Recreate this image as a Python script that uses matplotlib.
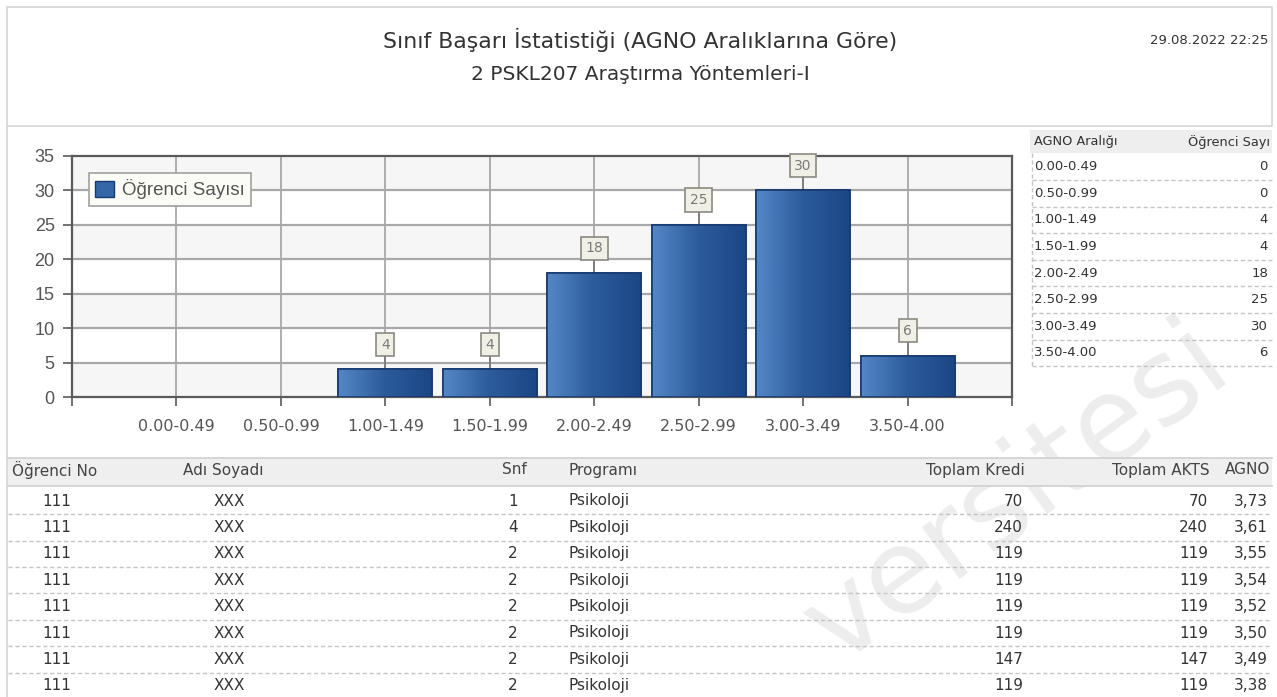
import numpy as np
import matplotlib.pyplot as plt
from matplotlib.colors import LinearSegmentedColormap
from matplotlib.patches import Rectangle

# --- chart data (AGNO ranges and student counts) ---
agno_ranges = ['0.00-0.49', '0.50-0.99', '1.00-1.49', '1.50-1.99',
               '2.00-2.49', '2.50-2.99', '3.00-3.49', '3.50-4.00']
student_counts = [0, 0, 4, 4, 18, 25, 30, 6]

# --- student list shown under the chart ---
student_no = ['111', '111', '111', '111', '111', '111', '111', '111']
full_name = ['XXX', 'XXX', 'XXX', 'XXX', 'XXX', 'XXX', 'XXX', 'XXX']
year = [1, 4, 2, 2, 2, 2, 2, 2]
program = ['Psikoloji', 'Psikoloji', 'Psikoloji', 'Psikoloji',
           'Psikoloji', 'Psikoloji', 'Psikoloji', 'Psikoloji']
total_credit = [70, 240, 119, 119, 119, 119, 147, 119]
total_ects = [70, 240, 119, 119, 119, 119, 147, 119]
gpa = ['3,73', '3,61', '3,55', '3,54', '3,52', '3,50', '3,49', '3,38']

title = 'Sınıf Başarı İstatistiği (AGNO Aralıklarına Göre)'
subtitle = '2 PSKL207 Araştırma Yöntemleri-I'
report_date = '29.08.2022 22:25'
watermark = 'versitesi'

W, H = 1277, 697
plt.rcParams['font.family'] = ['DejaVu Sans']
fig = plt.figure(figsize=(W / 100, H / 100), dpi=100)

# background layer in pixel coordinates (report frame, tables, watermark)
bg = fig.add_axes([0, 0, 1, 1], zorder=0)
bg.set_xlim(0, W)
bg.set_ylim(H, 0)
bg.axis('off')

line_c = '#d6d6d6'
bg.add_patch(Rectangle((7, 7), 1265, 119, fill=False, ec=line_c, lw=1.2))
bg.plot([7, 7], [126, H], color=line_c, lw=1.2)

bg.text(640, 40, title, ha='center', va='center', fontsize=15.8, color='#333333')
bg.text(640, 75, subtitle, ha='center', va='center', fontsize=14.5, color='#333333')
bg.text(1268, 40, report_date, ha='right', va='center', fontsize=9.5, color='#333333')

# faint watermark across the lower right
bg.text(1236, 376, watermark, rotation=36, rotation_mode='anchor',
        ha='right', va='baseline', fontsize=84, color='#ededed', zorder=1)

# right-hand summary table
tc = '#333333'
dash = dict(color='#c4c4c4', lw=1, ls=(0, (3, 2)), zorder=2)
bg.add_patch(Rectangle((1030, 130), 242, 23, fc='#eeeeee', ec='none', zorder=1.5))
bg.text(1034, 142, 'AGNO Aralığı', ha='left', va='center', fontsize=9.3, color=tc, zorder=3)
bg.text(1270, 142, 'Öğrenci Sayı', ha='right', va='center', fontsize=9.3, color=tc, zorder=3)
row_h = 26.6
for i, (rng, cnt) in enumerate(zip(agno_ranges, student_counts)):
    y = 166.7 + i * row_h
    bg.text(1034, y, rng, ha='left', va='center', fontsize=9.5, color=tc, zorder=3)
    bg.text(1268, y, str(cnt), ha='right', va='center', fontsize=9.5, color=tc, zorder=3)
    bg.plot([1032, 1272], [y + 13.3, y + 13.3], **dash)
bg.plot([1032, 1032], [153, 166.7 + 7 * row_h + 13.3], **dash)

# student table
bg.add_patch(Rectangle((8, 458), 1264, 28, fc='#efefef', ec='none', zorder=1.5))
bg.plot([8, 1272], [458, 458], color='#cfcfcf', lw=1.2, zorder=2)
bg.plot([8, 1272], [486, 486], color='#cfcfcf', lw=1.2, zorder=2)
hy = 470
fs = 11
bg.text(12, hy, 'Öğrenci No', ha='left', va='center', fontsize=fs, color='#444', zorder=3)
bg.text(183, hy, 'Adı Soyadı', ha='left', va='center', fontsize=fs, color='#444', zorder=3)
bg.text(502, hy, 'Snf', ha='left', va='center', fontsize=fs, color='#444', zorder=3)
bg.text(568, hy, 'Programı', ha='left', va='center', fontsize=fs, color='#444', zorder=3)
bg.text(1025, hy, 'Toplam Kredi', ha='right', va='center', fontsize=fs, color='#444', zorder=3)
bg.text(1210, hy, 'Toplam AKTS', ha='right', va='center', fontsize=fs, color='#444', zorder=3)
bg.text(1270, hy, 'AGNO', ha='right', va='center', fontsize=fs, color='#444', zorder=3)
for i in range(len(student_no)):
    y = 501 + i * 26.4
    bg.text(57, y, student_no[i], ha='center', va='center', fontsize=fs, color=tc, zorder=3)
    bg.text(229, y, full_name[i], ha='center', va='center', fontsize=fs, color=tc, zorder=3)
    bg.text(508, y, str(year[i]), ha='left', va='center', fontsize=fs, color=tc, zorder=3)
    bg.text(568, y, program[i], ha='left', va='center', fontsize=fs, color=tc, zorder=3)
    bg.text(1023, y, str(total_credit[i]), ha='right', va='center', fontsize=fs, color=tc, zorder=3)
    bg.text(1208, y, str(total_ects[i]), ha='right', va='center', fontsize=fs, color=tc, zorder=3)
    bg.text(1268, y, gpa[i], ha='right', va='center', fontsize=fs, color=tc, zorder=3)
    if i < len(student_no) - 1:
        bg.plot([8, 1272], [y + 13.2, y + 13.2], **dash)

# --- bar chart ---
ax = fig.add_axes([72 / W, (H - 397) / H, 940 / W, 241 / H], zorder=1)
x = np.arange(1, len(agno_ranges) + 1)

ax.set_facecolor('#f6f6f6')
for k, y0 in enumerate(range(0, 35, 5)):
    if k % 2 == 1:
        ax.axhspan(y0, y0 + 5, color='white', zorder=0)
for y0 in range(5, 35, 5):
    ax.axhline(y0, color='#a8a8a8', lw=1.6, zorder=1)
for xi in x:
    ax.axvline(xi, color='#a8a8a8', lw=1.3, zorder=1)

bars = ax.bar(x, student_counts, width=0.9, color='#2f5f9f', edgecolor='#173a6e',
              lw=1.2, zorder=3)
cmap = LinearSegmentedColormap.from_list('barblue', ['#5587c6', '#2c5b9c', '#1b4686'])
grad = np.linspace(0, 1, 256).reshape(1, -1)
for bar, v in zip(bars, student_counts):
    if v <= 0:
        bar.set_visible(False)
        continue
    x0 = bar.get_x()
    xc = x0 + bar.get_width() / 2
    im = ax.imshow(grad, cmap=cmap, extent=(x0, x0 + bar.get_width(), 0, v),
                   aspect='auto', zorder=3.5)
    im.set_clip_path(bar)
    ax.bar(xc, v, width=bar.get_width(), fill=False, edgecolor='#173a6e', lw=1.2, zorder=4)
    # value label in a small box on a leader line
    ax.plot([xc, xc], [v, v + 1.9], color='#777777', lw=1.2, zorder=2)
    ax.text(xc, v + 3.6, str(v), ha='center', va='center',
            fontsize=10, color='#7a7a7a', zorder=6, clip_on=False,
            bbox=dict(boxstyle='square,pad=0.33', fc='#f1f0e6', ec='#8a8a80', lw=1.2))

ax.set_xlim(0, 9)
ax.set_ylim(0, 35)
for sp in ax.spines.values():
    sp.set_color('#5a5a5a')
    sp.set_linewidth(1.6)

ax.set_yticks(range(0, 36, 5))
ax.set_xticks(range(0, 10))
ax.set_xticklabels([''] + agno_ranges + [''])
ax.tick_params(axis='y', length=6.5, width=1.2, color='#5a5a5a', pad=6,
               labelsize=13, labelcolor='#555555')
ax.tick_params(axis='x', length=6.5, width=1.2, color='#5a5a5a', pad=9,
               labelsize=11.5, labelcolor='#555555')
for lab in ax.get_yticklabels():
    lab.set_family('Liberation Sans')

leg = ax.legend([Rectangle((0, 0), 1, 1, fc='#3566a8', ec='#173a6e')], ['Öğrenci Sayısı'],
                loc='upper left', bbox_to_anchor=(0.018, 0.93), borderaxespad=0,
                fancybox=False, edgecolor='#a0a0a0', facecolor='#fcfcf7', framealpha=1,
                prop={'family': 'Liberation Sans', 'size': 13.5}, handlelength=1.0,
                handleheight=1.0, handletextpad=0.4, borderpad=0.35)
leg.get_frame().set_linewidth(1.2)
for t in leg.get_texts():
    t.set_color('#555555')

fig.savefig('out.png', dpi=100)
